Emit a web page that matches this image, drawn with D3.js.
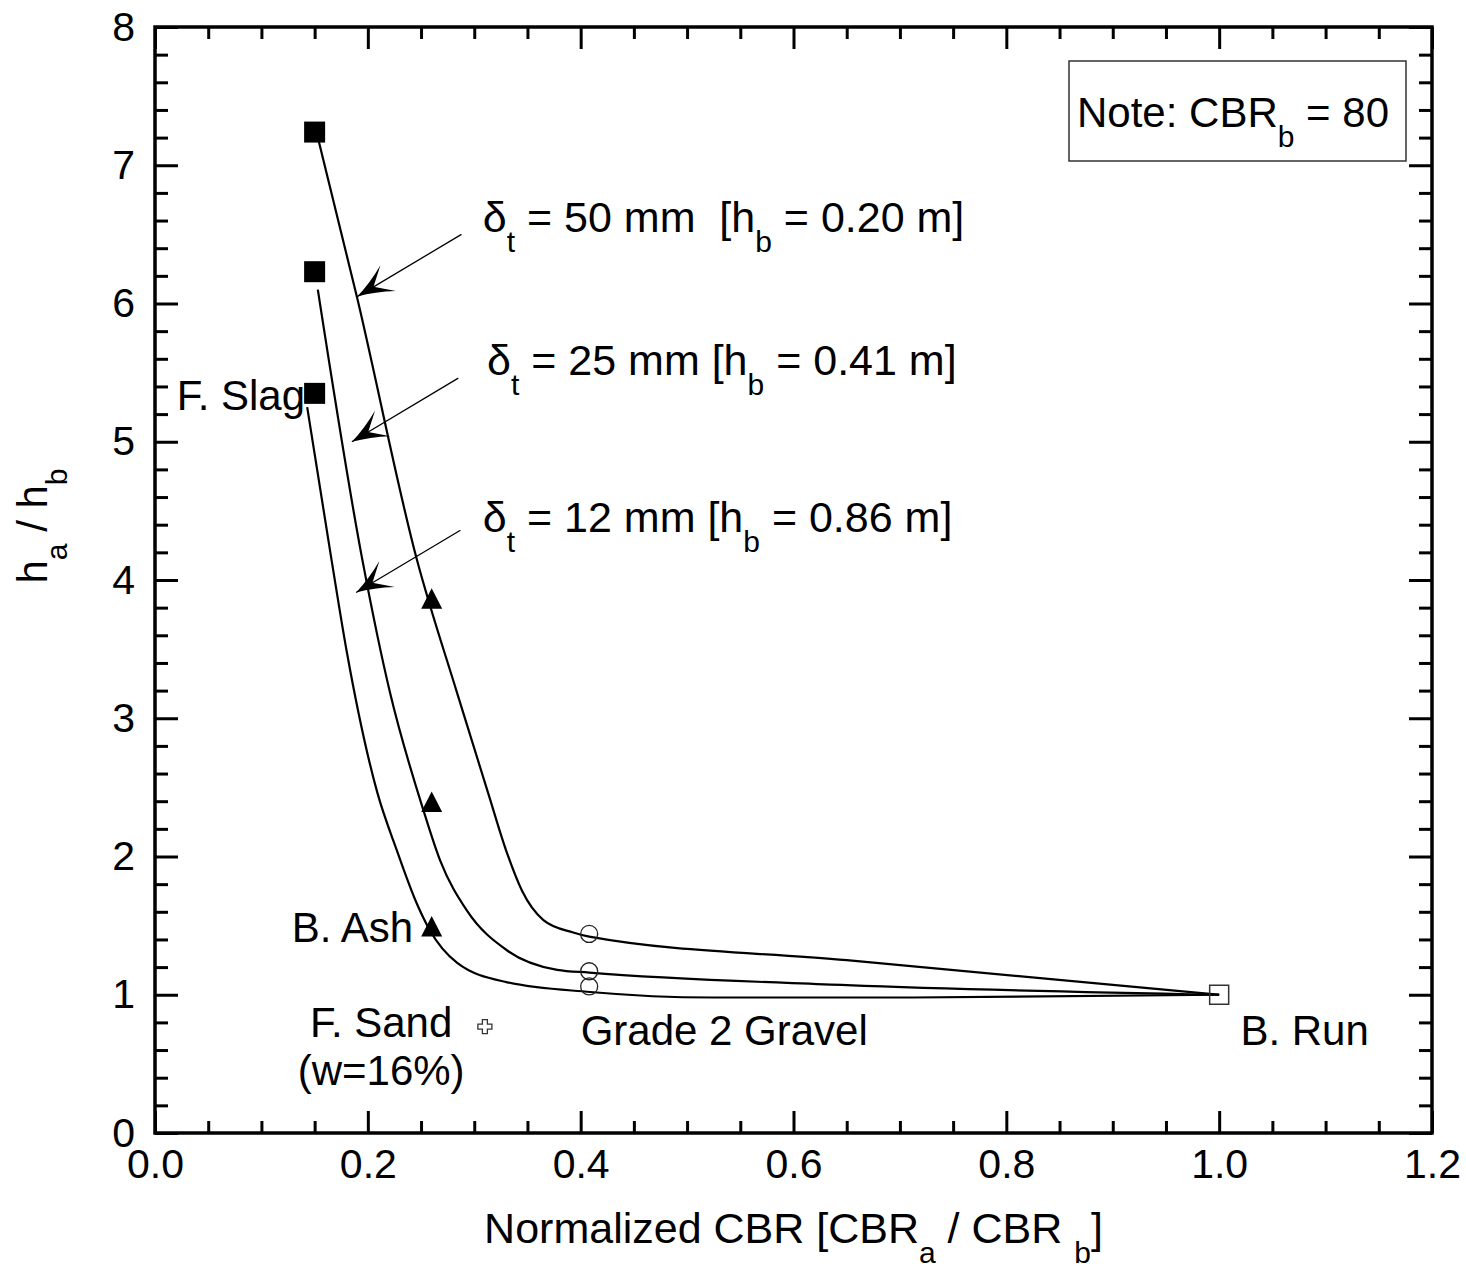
<!DOCTYPE html>
<html>
<head>
<meta charset="utf-8">
<script src="https://cdn.jsdelivr.net/npm/d3@7"></script>
<style>
  body { margin: 0; background: #fff; }
  text { font-family: 'Liberation Sans', Arial, sans-serif; fill: #000; white-space: pre; }
</style>
</head>
<body>
<svg id="chart" width="1466" height="1269"></svg>
<script>

// measured points
var slagPoints = [ [ 0.15, 7.24 ], [ 0.15, 6.23 ], [ 0.15, 5.35 ] ];
var ashPoints = [ [ 0.26, 3.86 ], [ 0.26, 2.39 ], [ 0.26, 1.49 ] ];
var gravelPoints = [ [ 0.408, 1.44 ], [ 0.408, 1.17 ], [ 0.408, 1.06 ] ];
var runPoints = [ [ 1.0, 1.0 ] ];
var sandPoints = [ [ 0.31, 0.77 ] ];

// fitted curves
var curve50 = [ [ 0.154, 7.17 ], [ 0.190, 6.04 ], [ 0.246, 4.15 ], [ 0.284, 3.18 ], [ 0.313, 2.46 ],
  [ 0.331, 2.02 ], [ 0.345, 1.75 ], [ 0.365, 1.54 ], [ 0.393, 1.45 ], [ 0.408, 1.42 ], [ 0.650, 1.25 ],
  [ 1.0, 1.0 ] ];
var curve25 = [ [ 0.153, 6.10 ], [ 0.195, 4.14 ], [ 0.221, 3.18 ], [ 0.252, 2.34 ], [ 0.268, 1.97 ],
  [ 0.293, 1.61 ], [ 0.331, 1.32 ], [ 0.378, 1.18 ], [ 0.408, 1.16 ], [ 0.650, 1.07 ], [ 1.0, 1.0 ] ];
var curve12 = [ [ 0.143, 5.25 ], [ 0.166, 4.14 ], [ 0.180, 3.49 ], [ 0.209, 2.46 ], [ 0.227, 2.05 ],
  [ 0.246, 1.66 ], [ 0.258, 1.47 ], [ 0.284, 1.23 ], [ 0.331, 1.09 ], [ 0.409, 1.02 ], [ 0.524, 0.98 ],
  [ 0.712, 0.98 ], [ 1.0, 1.0 ] ];

var xTicks = [ 0, 0.2, 0.4, 0.6, 0.8, 1.0, 1.2 ];
var yTicks = [ 0, 1, 2, 3, 4, 5, 6, 7, 8 ];

// arrows: tail x, tail y, tip x, tip y
var arrows = [ [ 0.288, 6.50, 0.190, 6.05 ], [ 0.285, 5.46, 0.185, 5.00 ], [ 0.287, 4.36, 0.189, 3.91 ] ];

var deltaLabels = [
  { x: 0.308, y: 6.52, parts: [ [ 'δ' ], [ 't', 1 ], [ ' = 50 mm  [h' ], [ 'b', 1 ], [ ' = 0.20 m]' ] ] },
  { x: 0.312, y: 5.48, parts: [ [ 'δ' ], [ 't', 1 ], [ ' = 25 mm [h' ], [ 'b', 1 ], [ ' = 0.41 m]' ] ] },
  { x: 0.308, y: 4.35, parts: [ [ 'δ' ], [ 't', 1 ], [ ' = 12 mm [h' ], [ 'b', 1 ], [ ' = 0.86 m]' ] ] }
];

var pointLabels = [
  { x: 0.141, y: 5.23, text: 'F. Slag', anchor: 'end' },
  { x: 0.2425, y: 1.38, text: 'B. Ash', anchor: 'end' },
  { x: 0.2125, y: 0.694, text: 'F. Sand', anchor: 'middle' },
  { x: 0.2125, y: 0.347, text: '(w=16%)', anchor: 'middle' },
  { x: 0.400, y: 0.637, text: 'Grade 2 Gravel', anchor: 'start' },
  { x: 1.020, y: 0.637, text: 'B. Run', anchor: 'start' }
];

var svg = d3.select( '#chart' );

var x = d3.scaleLinear().domain( [ 0, 1.2 ] ).range( [ 155, 1432 ] );
var y = d3.scaleLinear().domain( [ 0, 8 ] ).range( [ 1133, 27 ] );

svg.append( 'rect' ).attr( 'width', 1466 ).attr( 'height', 1269 ).attr( 'fill', '#fff' );

/* Axes */

var xMinor = d3.range( 0, 1.2001, 0.05 ).filter( v => Math.abs( v * 5 - Math.round( v * 5 ) ) > 1e-6 );
var yMinor = d3.range( 0, 8.001, 0.2 ).filter( v => Math.abs( v - Math.round( v ) ) > 1e-6 );

function axis( fn, transform, values, size, pad, fmt ) {
  var g = svg.append( 'g' )
    .attr( 'transform', transform )
    .call( fn.tickValues( values ).tickSize( size ).tickPadding( pad ).tickFormat( fmt ) );
  g.select( '.domain' ).remove();
  g.selectAll( 'line' ).attr( 'stroke', '#000' ).attr( 'stroke-width', 3 );
  g.selectAll( 'text' ).style( 'font-size', '41px' ).attr( 'font-family', null );
  return g;
}

var xFmt = d3.format( '.1f' ), yFmt = d3.format( 'd' );

axis( d3.axisBottom( x ), 'translate(0,' + y( 0 ) + ')', xTicks, -22, 16, xFmt );
axis( d3.axisBottom( x ), 'translate(0,' + y( 0 ) + ')', xMinor, -12, 0, '' );
axis( d3.axisTop( x ), 'translate(0,' + y( 8 ) + ')', xTicks, -22, 0, '' );
axis( d3.axisTop( x ), 'translate(0,' + y( 8 ) + ')', xMinor, -12, 0, '' );
axis( d3.axisLeft( y ), 'translate(' + x( 0 ) + ',0)', yTicks, -23, 20, yFmt );
axis( d3.axisLeft( y ), 'translate(' + x( 0 ) + ',0)', yMinor, -13, 0, '' );
axis( d3.axisRight( y ), 'translate(' + x( 1.2 ) + ',0)', yTicks, -23, 0, '' );
axis( d3.axisRight( y ), 'translate(' + x( 1.2 ) + ',0)', yMinor, -13, 0, '' );

svg.append( 'rect' )
  .attr( 'x', x( 0 ) ).attr( 'y', y( 8 ) )
  .attr( 'width', x( 1.2 ) - x( 0 ) ).attr( 'height', y( 0 ) - y( 8 ) )
  .attr( 'fill', 'none' ).attr( 'stroke', '#000' ).attr( 'stroke-width', 3.5 );

// text with subscripts
function richText( g, parts, size ) {
  var t = g.append( 'text' ).attr( 'xml:space', 'preserve' ).style( 'font-size', size + 'px' );
  var down = false;
  parts.forEach( p => {
    var ts = t.append( 'tspan' ).text( p[ 0 ] );
    if ( p[ 1 ] ) {
      ts.style( 'font-size', '30px' );
      if ( !down ) { ts.attr( 'dy', 20 ); down = true; }
    } else if ( down ) {
      ts.attr( 'dy', -20 ); down = false;
    }
  } );
  return t;
}

richText( svg, [ [ 'Normalized CBR [CBR' ], [ 'a', 1 ], [ ' / CBR ' ], [ 'b', 1 ], [ ']' ] ], 43 )
  .attr( 'x', ( x( 0 ) + x( 1.2 ) ) / 2 ).attr( 'y', 1243 )
  .attr( 'text-anchor', 'middle' );

richText( svg, [ [ 'h' ], [ 'a', 1 ], [ ' / h' ], [ 'b', 1 ] ], 42 )
  .attr( 'transform', 'translate(47,526) rotate(-90)' )
  .attr( 'text-anchor', 'middle' );

/* Curves */

var line = d3.line()
  .curve( d3.curveMonotoneX )
  .x( d => x( d[ 0 ] ) )
  .y( d => y( d[ 1 ] ) );

svg.append( 'g' ).selectAll( 'path' )
  .data( [ curve50, curve25, curve12 ] )
  .enter().append( 'path' )
    .attr( 'd', line )
    .attr( 'fill', 'none' )
    .attr( 'stroke', '#000' )
    .attr( 'stroke-width', 2.2 );

/* Markers */

svg.append( 'g' ).selectAll( 'rect' )
  .data( slagPoints )
  .enter().append( 'rect' )
    .attr( 'x', d => x( d[ 0 ] ) - 10.5 ).attr( 'y', d => y( d[ 1 ] ) - 10.5 )
    .attr( 'width', 21 ).attr( 'height', 21 )
    .attr( 'fill', '#000' );

svg.append( 'g' ).selectAll( 'path' )
  .data( ashPoints )
  .enter().append( 'path' )
    .attr( 'd', 'M0,-11 L10.5,9.5 L-10.5,9.5 Z' )
    .attr( 'transform', d => 'translate(' + x( d[ 0 ] ) + ',' + y( d[ 1 ] ) + ')' )
    .attr( 'fill', '#000' );

svg.append( 'g' ).selectAll( 'circle' )
  .data( gravelPoints )
  .enter().append( 'circle' )
    .attr( 'cx', d => x( d[ 0 ] ) ).attr( 'cy', d => y( d[ 1 ] ) )
    .attr( 'r', 8.5 )
    .attr( 'fill', 'none' ).attr( 'stroke', '#222' ).attr( 'stroke-width', 1.3 );

svg.append( 'g' ).selectAll( 'rect' )
  .data( runPoints )
  .enter().append( 'rect' )
    .attr( 'x', d => x( d[ 0 ] ) - 9.5 ).attr( 'y', d => y( d[ 1 ] ) - 9.5 )
    .attr( 'width', 19 ).attr( 'height', 19 )
    .attr( 'fill', 'none' ).attr( 'stroke', '#333' ).attr( 'stroke-width', 1.5 );

svg.append( 'g' ).selectAll( 'path' )
  .data( sandPoints )
  .enter().append( 'path' )
    .attr( 'd', 'M-2.5,-7 H2.5 V-2.5 H7 V2.5 H2.5 V7 H-2.5 V2.5 H-7 V-2.5 H-2.5 Z' )
    .attr( 'transform', d => 'translate(' + x( d[ 0 ] ) + ',' + y( d[ 1 ] ) + ')' )
    .attr( 'fill', '#fff' ).attr( 'stroke', '#333' ).attr( 'stroke-width', 1.3 );

/* Arrows */

arrows.forEach( a => {
  var x1 = x( a[ 0 ] ), y1 = y( a[ 1 ] ), x2 = x( a[ 2 ] ), y2 = y( a[ 3 ] );
  var ang = Math.atan2( y2 - y1, x2 - x1 ) * 180 / Math.PI;
  svg.append( 'line' )
    .attr( 'x1', x1 ).attr( 'y1', y1 ).attr( 'x2', x2 ).attr( 'y2', y2 )
    .attr( 'stroke', '#000' ).attr( 'stroke-width', 1.3 );
  svg.append( 'path' )
    .attr( 'd', 'M0,0 Q-18,-5 -36,-15 L-19,0 L-36,15 Q-18,5 0,0 Z' )
    .attr( 'transform', 'translate(' + x2 + ',' + y2 + ') rotate(' + ang + ')' )
    .attr( 'fill', '#000' );
} );

/* Labels */

deltaLabels.forEach( l => {
  richText( svg, l.parts, 43 ).attr( 'x', x( l.x ) ).attr( 'y', y( l.y ) );
} );

svg.append( 'g' ).selectAll( 'text' )
  .data( pointLabels )
  .enter().append( 'text' )
    .attr( 'x', d => x( d.x ) ).attr( 'y', d => y( d.y ) )
    .attr( 'text-anchor', d => d.anchor )
    .style( 'font-size', '42px' )
    .text( d => d.text );

/* Note box */

svg.append( 'rect' )
  .attr( 'x', 1069 ).attr( 'y', 61 ).attr( 'width', 337 ).attr( 'height', 100 )
  .attr( 'fill', '#fff' ).attr( 'stroke', '#333' ).attr( 'stroke-width', 1.5 );

richText( svg, [ [ 'Note: CBR' ], [ 'b', 1 ], [ ' = 80' ] ], 42 )
  .attr( 'x', 1077 ).attr( 'y', 127 );

</script>
</body>
</html>
